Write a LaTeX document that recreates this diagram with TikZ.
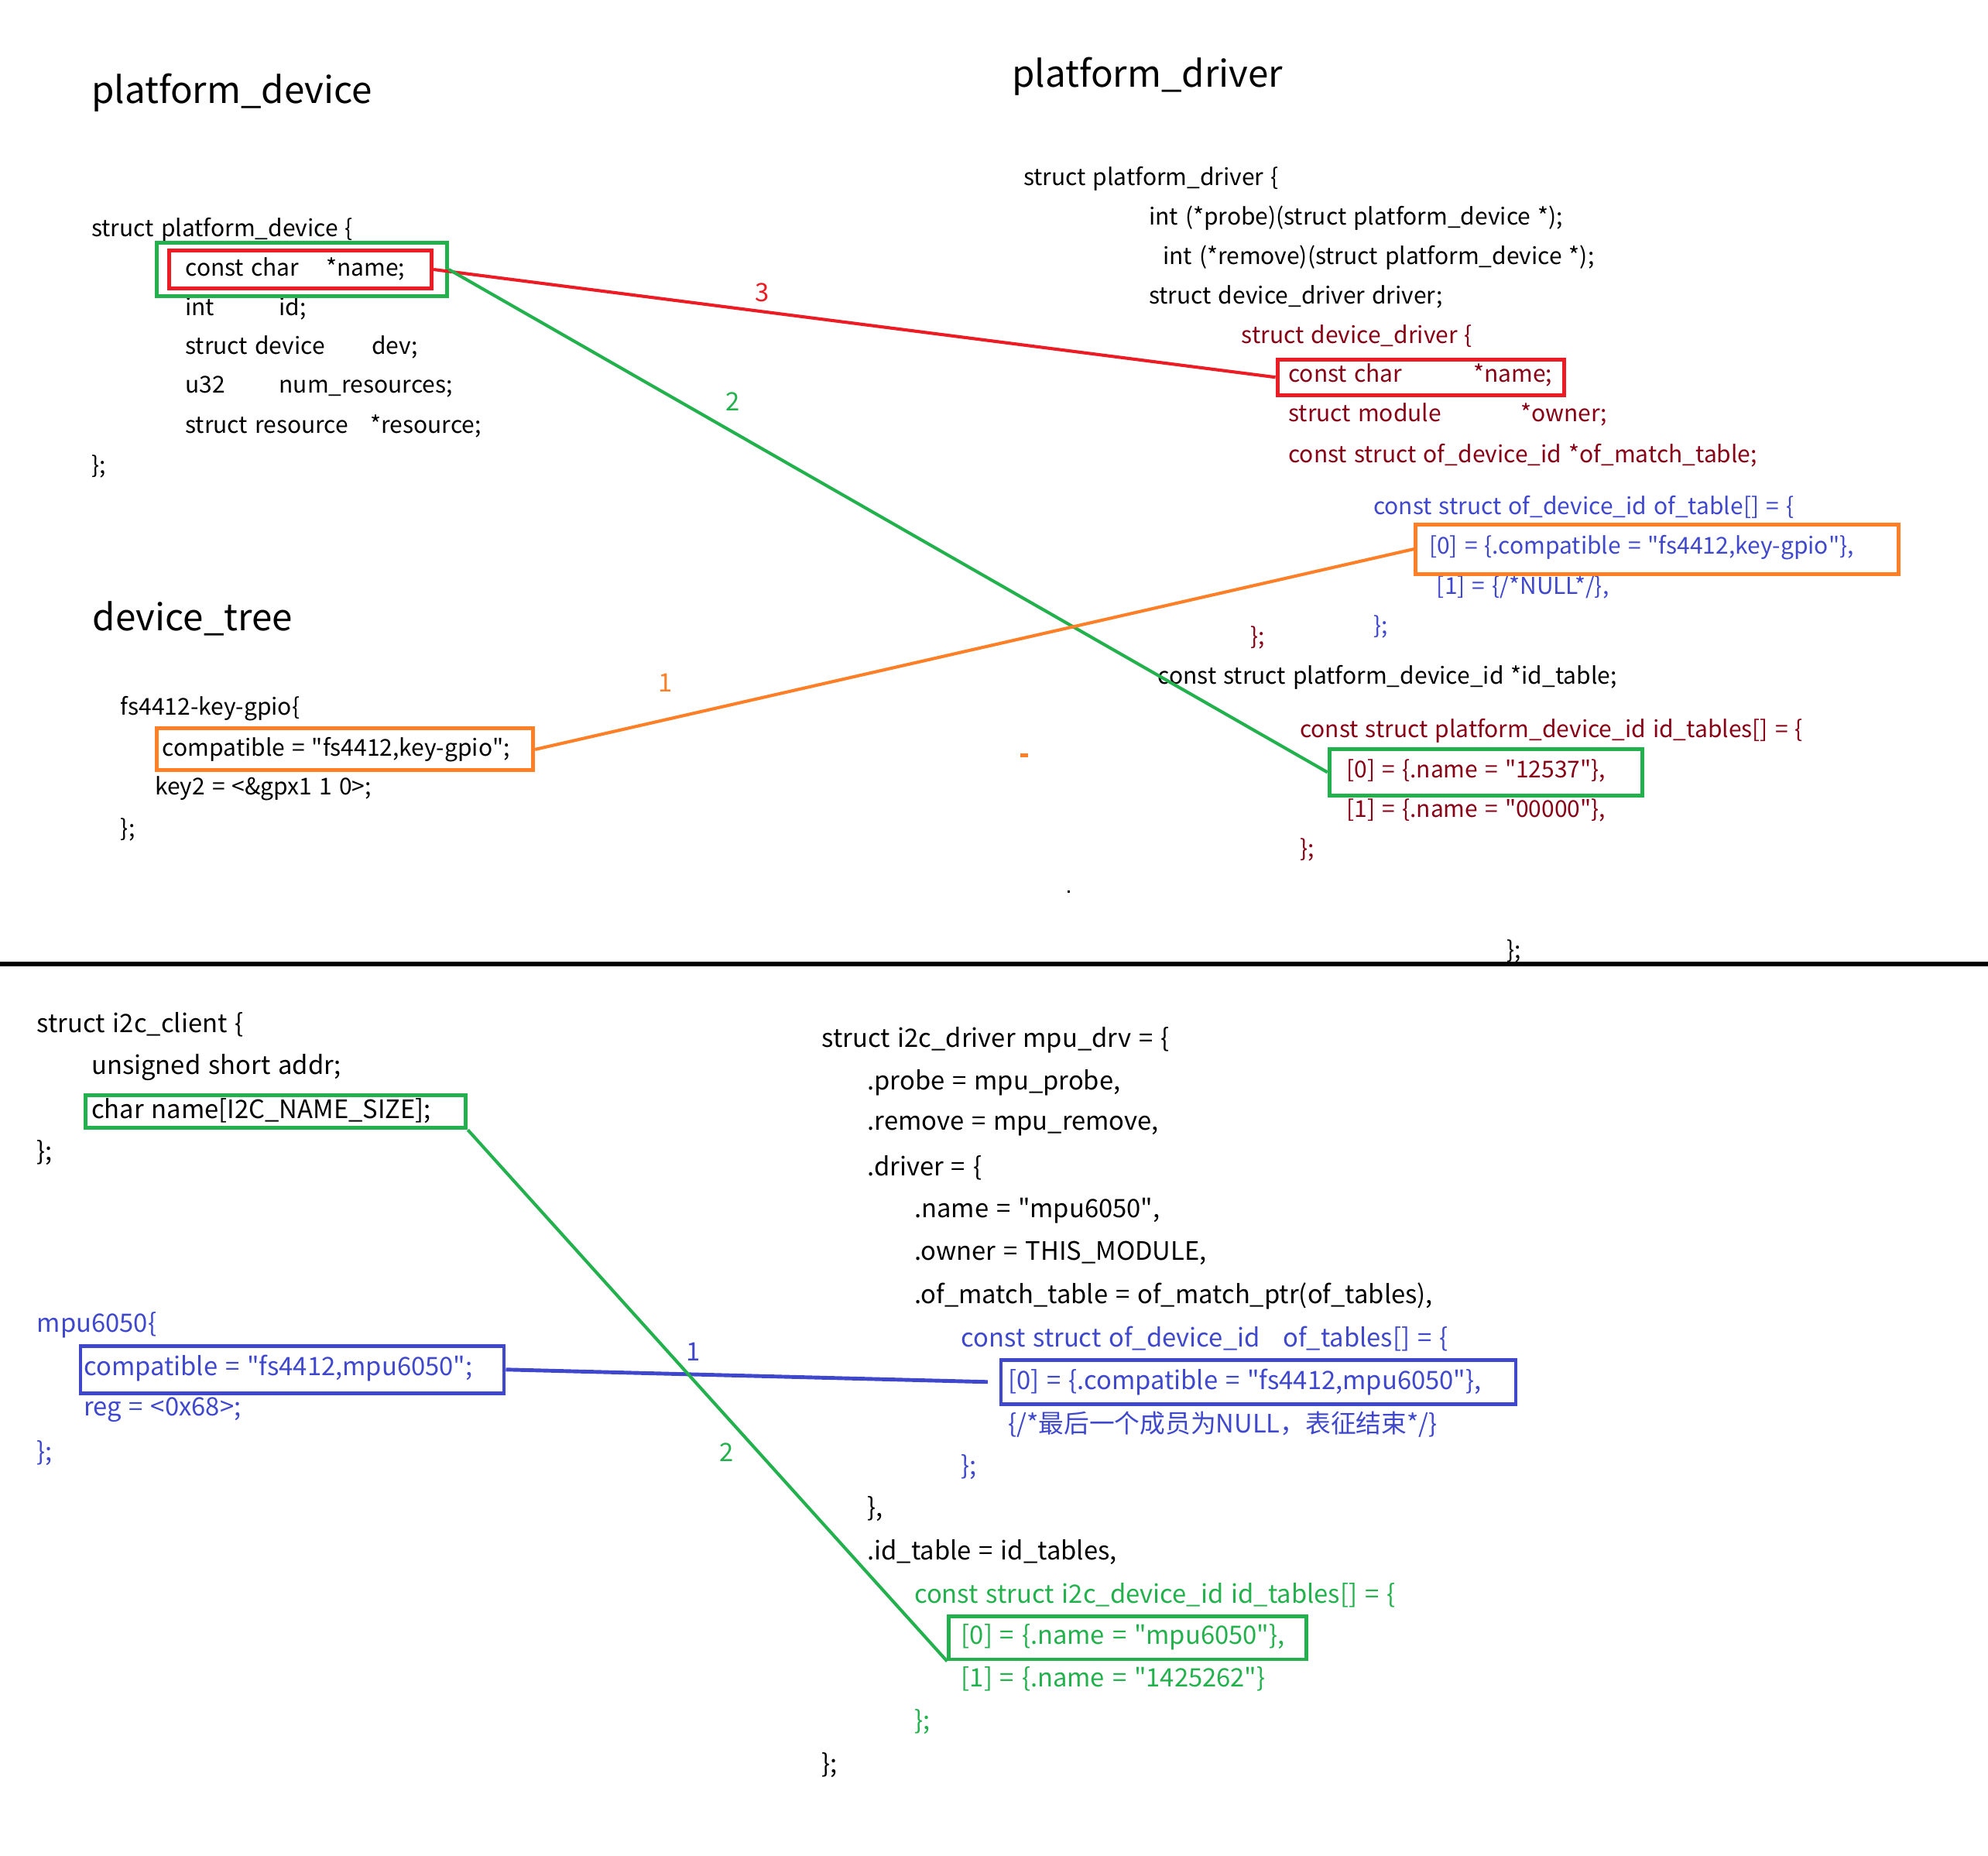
\documentclass[tikz,border=0pt]{standalone}
\usepackage{fontspec}
\setmainfont{Noto Sans CJK SC}[WordSpace=1.35]
\usepackage{tikz}
\definecolor{pred}{RGB}{237,28,36}
\definecolor{pgreen}{RGB}{34,177,76}
\definecolor{porange}{RGB}{255,127,39}
\definecolor{pblue}{RGB}{63,72,204}
\definecolor{pmaroon}{RGB}{136,0,21}
\newcommand{\qm}{\textquotedbl}

\begin{document}
\begin{tikzpicture}[x=1pt, y=-1pt,
	codeline/.style={anchor=west, inner sep=0pt, yshift=-2pt, font=\fontsize{18.3}{22}\selectfont},
	lowline/.style={codeline, font=\fontsize{20}{24}\selectfont},
	headline/.style={anchor=west, inner sep=0pt, font=\fontsize{29}{35}\selectfont},
	hibox/.style={draw=#1, line width=3pt, inner sep=0pt, anchor=north west},
	numlbl/.style={inner sep=0pt, font=\fontsize{20}{24}\selectfont},
	link/.style={draw=#1, line width=2.5pt}]
	\useasboundingbox (0,0) rectangle (1568,1463);

	% platform_device
	\node[headline] (pdtitle) at (72,73) {platform\_device};
	\node[codeline] (pdhead) at (72,179) {struct platform\_device \{};
	\node[codeline] (pdname) at (146,210) {\makebox[111pt][l]{const char}*name;};
	\foreach \a/\b/\w/\y in {int/id;/74/241, struct device/dev;/147/272, u32/num\_resources;/74/303, struct resource/*resource;/146/334}{
		\node[codeline] (pd\y) at (146,\y) {\makebox[\w pt][l]{\a}\b};
	}
	\node[codeline] (pdend) at (72,366) {\};};
	\node[hibox=pgreen, minimum width=229pt, minimum height=42pt] (pdgbox) at (122,190) {};
	\node[hibox=pred, minimum width=207pt, minimum height=30pt] (pdrbox) at (132,196) {};

	% platform_driver
	\node[headline] (drvtitle) at (798,60) {platform\_driver};
	\node[codeline] (drv1) at (807,139) {struct platform\_driver \{};
	\node[codeline] (drv2) at (906,170) {int (*probe)(struct platform\_device *);};
	\node[codeline] (drv3) at (917,201) {int (*remove)(struct platform\_device *);};
	\node[codeline] (drv4) at (906,232) {struct device\_driver driver;};
	\node[codeline, text=pmaroon] (dd1) at (979,263) {struct device\_driver \{};
	\node[codeline, text=pmaroon] (dd2) at (1016,294) {\makebox[146pt][l]{const char}*name;};
	\node[codeline, text=pmaroon] (dd3) at (1016,325) {\makebox[183pt][l]{struct module}*owner;};
	\node[codeline, text=pmaroon] (dd4) at (1016,357) {const struct of\_device\_id *of\_match\_table;};
	\node[codeline, text=pblue] (of1) at (1083,398) {const struct of\_device\_id of\_table[] = \{};
	\node[codeline, text=pblue] (of2) at (1127,430) {[0] = \{.compatible = \qm fs4412,key-gpio\qm\},};
	\node[codeline, text=pblue] (of3) at (1133,461) {[1] = \{/*NULL*/\},};
	\node[codeline, text=pblue] (of4) at (1083,492) {\};};
	\node[codeline, text=pmaroon] (dd5) at (986,501) {\};};
	\node[codeline] (drv5) at (913,532) {const struct platform\_device\_id *id\_table;};
	\node[codeline, text=pmaroon] (id1) at (1025,574) {const struct platform\_device\_id id\_tables[] = \{};
	\node[codeline, text=pmaroon] (id2) at (1062,606) {[0] = \{.name = \qm 12537\qm\},};
	\node[codeline, text=pmaroon] (id3) at (1062,637) {[1] = \{.name = \qm 00000\qm\},};
	\node[codeline, text=pmaroon] (id4) at (1025,668) {\};};
	\node[codeline] (drvend) at (1188,748) {\};};
	\node[hibox=pred, minimum width=226pt, minimum height=28pt] (ddrbox) at (1006,282) {};
	\node[hibox=porange, minimum width=381pt, minimum height=39pt] (ofobox) at (1115,412) {};
	\node[hibox=pgreen, minimum width=247pt, minimum height=37pt] (idgbox) at (1047,589) {};

	% device_tree
	\node[headline] (dttitle) at (73,488) {device\_tree};
	\node[codeline] (dt1) at (95,557) {fs4412-key-gpio\{};
	\node[codeline] (dt2) at (128,589) {compatible = \qm fs4412,key-gpio\qm;};
	\node[codeline] (dt3) at (122,620) {key2 = <\&gpx1 1 0>;};
	\node[codeline] (dt4) at (95,652) {\};};
	\node[hibox=porange, minimum width=297pt, minimum height=33pt] (dtobox) at (122,573) {};

	\draw[link=pred] (pdrbox.east) -- node[numlbl, text=pred, pos=0.39, yshift=15pt] (n3) {3} (ddrbox.west);
	\draw[link=pgreen] (pdgbox.east) -- node[numlbl, text=pgreen, pos=0.323, yshift=24pt] (n2) {2} (idgbox.west);
	\draw[link=porange] (dtobox.east) -- node[numlbl, text=porange, pos=0.148, yshift=29pt] (n1) {1} (ofobox.west);
	\fill[porange] (805,594) rectangle (811,597);
	\fill[black] (842,702) rectangle (844,704);

	\draw[line width=3.5pt] (0,760) -- (1568,760);

	% i2c_client
	\node[lowline] (ic1) at (29,806) {struct i2c\_client \{};
	\node[lowline] (ic2) at (72,840) {unsigned short addr;};
	\node[lowline] (ic3) at (72,874) {char name[I2C\_NAME\_SIZE];};
	\node[lowline] (ic4) at (29,907) {\};};
	\node[hibox=pgreen, minimum width=300pt, minimum height=26pt] (icgbox) at (66,862) {};
	\node[lowline, text=pblue] (mp1) at (29,1043) {mpu6050\{};
	\node[lowline, text=pblue] (mp2) at (66,1077) {compatible = \qm fs4412,mpu6050\qm;};
	\node[lowline, text=pblue] (mp3) at (66,1110) {reg = <0x68>;};
	\node[lowline, text=pblue] (mp4) at (29,1144) {\};};
	\node[hibox=pblue, minimum width=334pt, minimum height=37pt] (mpbbox) at (62,1060) {};

	% i2c_driver
	\node[lowline] (id01) at (648,818) {struct i2c\_driver mpu\_drv = \{};
	\node[lowline] (id02) at (684,852) {.probe = mpu\_probe,};
	\node[lowline] (id03) at (684,886) {.remove = mpu\_remove,};
	\node[lowline] (id04) at (684,919) {.driver = \{};
	\node[lowline] (id05) at (721,953) {.name = \qm mpu6050\qm,};
	\node[lowline] (id06) at (721,986) {.owner = THIS\_MODULE,};
	\node[lowline] (id07) at (721,1020) {.of\_match\_table = of\_match\_ptr(of\_tables),};
	\node[lowline, text=pblue] (id08) at (758,1054) {const struct of\_device\_id\ \ \ of\_tables[] = \{};
	\node[lowline, text=pblue] (id09) at (795,1088) {[0] = \{.compatible = \qm fs4412,mpu6050\qm\},};
	\node[lowline, text=pblue] (id10) at (795,1121) {\{/*最后一个成员为NULL，表征结束*/\}};
	\node[lowline, text=pblue] (id11) at (758,1155) {\};};
	\node[lowline] (id12) at (684,1188) {\},};
	\node[lowline] (id13) at (684,1222) {.id\_table = id\_tables,};
	\node[lowline, text=pgreen] (id14) at (721,1256) {const struct i2c\_device\_id id\_tables[] = \{};
	\node[lowline, text=pgreen] (id15) at (758,1289) {[0] = \{.name = \qm mpu6050\qm\},};
	\node[lowline, text=pgreen] (id16) at (758,1322) {[1] = \{.name = \qm 1425262\qm\}};
	\node[lowline, text=pgreen] (id17) at (721,1356) {\};};
	\node[lowline] (id18) at (648,1390) {\};};
	\node[hibox=pblue, minimum width=406pt, minimum height=35pt] (idbbox) at (788,1071) {};
	\node[hibox=pgreen, minimum width=282pt, minimum height=34pt] (idgbox2) at (747,1273) {};

	\draw[link=pblue, line width=3pt, shorten >=9pt] (mpbbox.east) -- node[numlbl, text=pblue, pos=0.38, yshift=18pt] (m1) {1} (idbbox.west);
	\draw[link=pgreen] (icgbox.south east) -- node[numlbl, text=pgreen, pos=0.54, yshift=-28pt] (m2) {2} (idgbox2.south west);
\end{tikzpicture}
\end{document}
